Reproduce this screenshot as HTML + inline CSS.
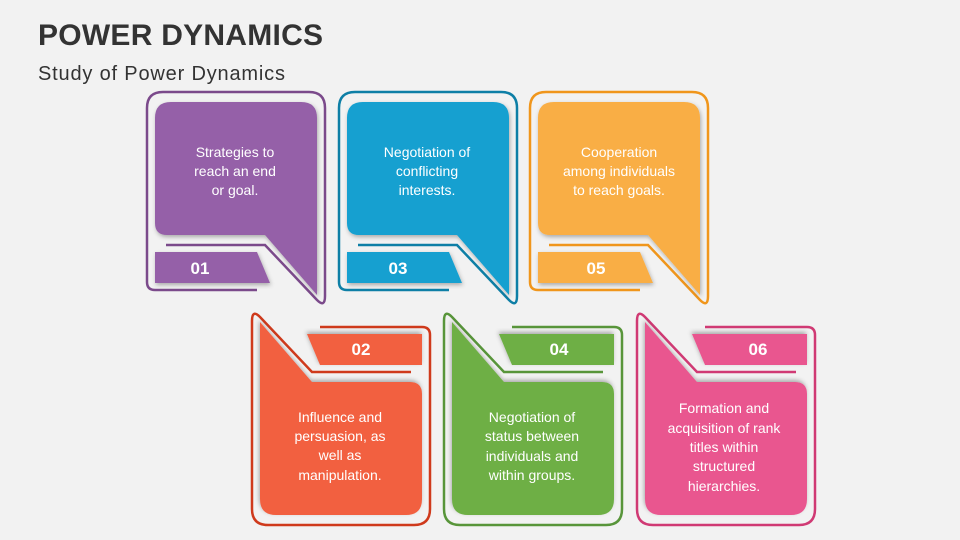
<!DOCTYPE html>
<html><head><meta charset="utf-8"><style>
body{margin:0;width:960px;height:540px;background:#f2f2f2;overflow:hidden;font-family:"Liberation Sans",sans-serif}
svg{position:absolute;left:0;top:0}
</style></head><body>
<svg width="960" height="540" viewBox="0 0 960 540">
<defs>
<filter id="sh" x="-10%" y="-10%" width="130%" height="130%"><feDropShadow dx="1" dy="2" stdDeviation="2" flood-color="#000" flood-opacity="0.3"/></filter>
<g id="card">
<path d="M110,198 H8 Q0,198 0,190 V16 Q0,0 16,0 H162 Q178,0 178,16 V204 Q178,216 170,208 L118,153 H19" fill="none" stroke="var(--o)" stroke-width="2.5"/>
<path d="M8,26 Q8,10 24,10 H154 Q170,10 170,26 V203 L118,143 H20 Q8,143 8,131 Z" fill="var(--f)" filter="url(#sh)"/>
<path d="M8,160 H110 L123,191 H8 Z" fill="var(--f)" filter="url(#sh)"/>
</g>
</defs>
<text x="38" y="45" font-size="30" font-weight="bold" fill="#333" textLength="285">POWER DYNAMICS</text>
<text x="38" y="80" font-size="20" fill="#333" textLength="247">Study of Power Dynamics</text>

<use href="#card" transform="translate(147,92)" style="--f:#9561A8;--o:#7B4A8B"/>
<use href="#card" transform="translate(339,92)" style="--f:#13A0D0;--o:#0E7FA6"/>
<use href="#card" transform="translate(530,92)" style="--f:#F9AE45;--o:#F0961C"/>
<use href="#card" transform="translate(430,525) rotate(180)" style="--f:#F26040;--o:#CF3A1C"/>
<use href="#card" transform="translate(622,525) rotate(180)" style="--f:#6EAF45;--o:#58953A"/>
<use href="#card" transform="translate(815,525) rotate(180)" style="--f:#E9568F;--o:#D03A74"/>

<g fill="#fff" font-size="14" text-anchor="middle">
<text x="235" y="157">Strategies to</text><text x="235" y="176">reach an end</text><text x="235" y="195">or goal.</text>
<text x="427" y="157">Negotiation of</text><text x="427" y="176">conflicting</text><text x="427" y="195">interests.</text>
<text x="619" y="157">Cooperation</text><text x="619" y="176">among individuals</text><text x="619" y="195">to reach goals.</text>
<text x="340" y="422">Influence and</text><text x="340" y="441">persuasion, as</text><text x="340" y="460">well as</text><text x="340" y="480">manipulation.</text>
<text x="532" y="422">Negotiation of</text><text x="532" y="441">status between</text><text x="532" y="461">individuals and</text><text x="532" y="480">within groups.</text>
<text x="724" y="413">Formation and</text><text x="724" y="433">acquisition of rank</text><text x="724" y="452">titles within</text><text x="724" y="471">structured</text><text x="724" y="491">hierarchies.</text>
</g>
<g fill="#fff" font-size="17" font-weight="bold" text-anchor="middle">
<text x="200" y="274">01</text><text x="398" y="274">03</text><text x="596" y="274">05</text>
<text x="361" y="355">02</text><text x="559" y="355">04</text><text x="758" y="355">06</text>
</g>
</svg>
</body></html>
